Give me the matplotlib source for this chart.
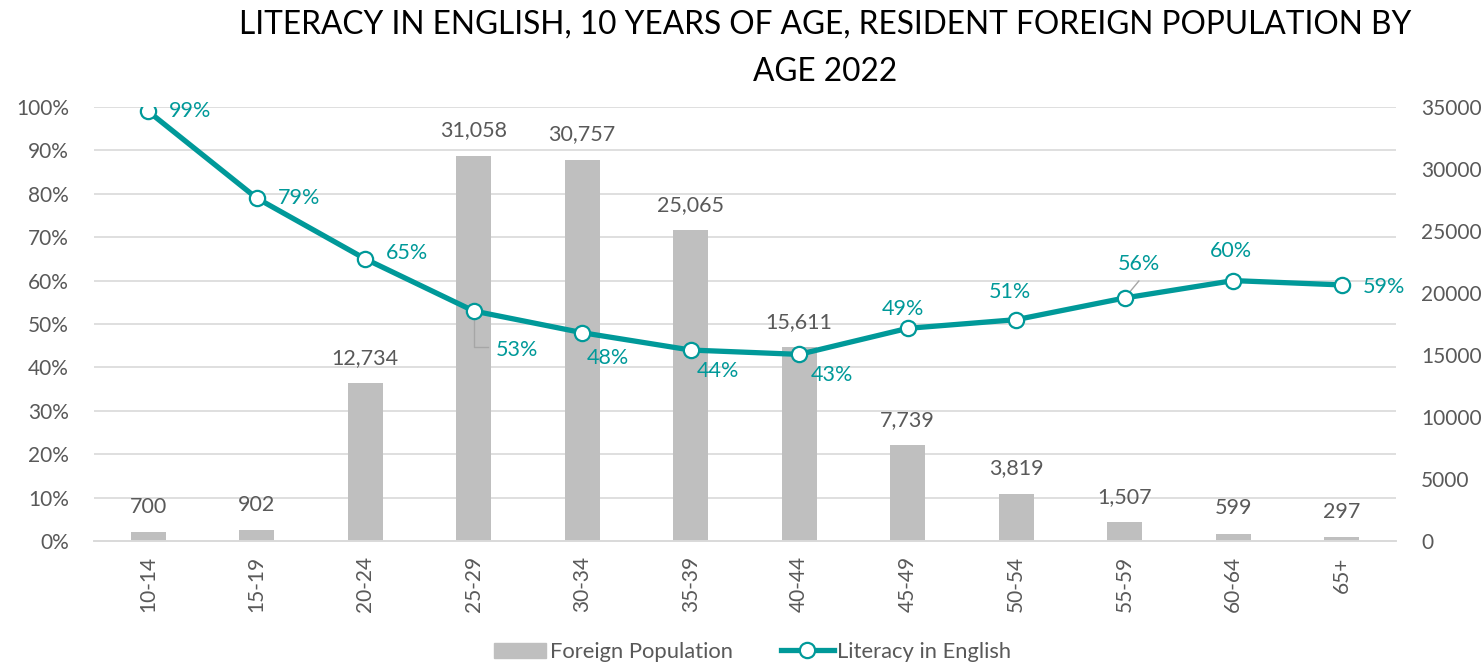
import matplotlib

matplotlib.use("Agg")
import matplotlib.pyplot as plt
from matplotlib.lines import Line2D
from matplotlib.patches import Patch

plt.rcParams["font.family"] = ["Lato", "DejaVu Sans"]

AGE_GROUPS = ["10-14", "15-19", "20-24", "25-29", "30-34", "35-39",
              "40-44", "45-49", "50-54", "55-59", "60-64", "65+"]
FOREIGN_POP = [700, 902, 12734, 31058, 30757, 25065, 15611, 7739, 3819, 1507, 599, 297]
LITERACY = [0.99, 0.79, 0.65, 0.53, 0.48, 0.44, 0.43, 0.49, 0.51, 0.56, 0.60, 0.59]

# label offsets in pixels from each marker (Excel-style placement)
LABEL_OFFSETS = [(42, 0), (42, 0), (42, 6), (43, -39), (26, -25), (27, -21),
                 (33, -21), (-5, 19), (-6, 28), (14, 34), (-2, 30), (42, -2)]

TEAL = "#009999"
BAR_GRAY = "#BFBFBF"
TEXT_GRAY = "#595959"
GRID = "#D9D9D9"
LEADER = "#A6A6A6"

fig = plt.figure(figsize=(14.84, 6.64), dpi=100)
ax = fig.add_axes([0.0633, 0.1852, 0.8774, 0.6537])
ax2 = ax.twinx()

x = list(range(len(AGE_GROUPS)))

# line axis on top of the bar axis
ax.set_zorder(ax2.get_zorder() + 1)
ax.patch.set_visible(False)

# percentage gridlines, drawn on the bar axis so they sit behind the bars
pct_ticks = [i / 10 for i in range(11)]
for t in pct_ticks[1:]:
    ax2.axhline(t * 35000, color=GRID, lw=1.2, zorder=0)

bars = ax2.bar(x, FOREIGN_POP, width=0.32, color=BAR_GRAY, zorder=2)
ax2.bar_label(bars, labels=[f"{v:,}" for v in FOREIGN_POP], padding=11,
              fontsize=15.5, color=TEXT_GRAY)
ax2.set_ylim(0, 35000)
ax2.set_yticks(range(0, 35001, 5000))
ax2.tick_params(axis="y", length=0, labelsize=15, labelcolor=TEXT_GRAY, pad=18)

ax.plot(x, LITERACY, color=TEAL, lw=3.8, marker="o", ms=11,
        mfc="white", mec=TEAL, mew=1.6, zorder=5)
for i, (v, (dx, dy)) in enumerate(zip(LITERACY, LABEL_OFFSETS)):
    ax.annotate(f"{v:.0%}", (i, v), xytext=(dx, dy), textcoords="offset pixels",
                ha="center", va="center", fontsize=15.5, color=TEAL, zorder=6)

# leader lines for the displaced labels
ax.plot([3, 3, 3.13], [LITERACY[3], 0.447, 0.447], color=LEADER, lw=1, zorder=4)
ax.plot([9, 9.13], [LITERACY[9], 0.599], color=LEADER, lw=1, zorder=4)

ax.set_ylim(0, 1)
ax.set_yticks(pct_ticks)
ax.set_yticklabels([f"{round(t * 100)}%" for t in pct_ticks])
ax.set_xlim(-0.5, len(AGE_GROUPS) - 0.5)
ax.set_xticks(x)
ax.set_xticklabels(AGE_GROUPS, rotation=90)
ax.tick_params(axis="y", length=0, labelsize=15, labelcolor=TEXT_GRAY, pad=18)
ax.tick_params(axis="x", length=0, labelsize=15, labelcolor=TEXT_GRAY, pad=11)

for a in (ax, ax2):
    for side in ("top", "left", "right"):
        a.spines[side].set_visible(False)
    a.spines["bottom"].set_color(GRID)
    a.spines["bottom"].set_linewidth(1.2)

fig.text(0.556, 0.963, "LITERACY IN ENGLISH, 10 YEARS OF AGE, RESIDENT FOREIGN POPULATION BY",
         ha="center", va="center", fontsize=22.8, color="black")
fig.text(0.556, 0.891, "AGE 2022", ha="center", va="center", fontsize=22.8, color="black")

handles = [Patch(color=BAR_GRAY, label="Foreign Population"),
           Line2D([], [], color=TEAL, lw=3.8, marker="o", ms=11, mfc="white",
                  mec=TEAL, mew=1.6, label="Literacy in English")]
fig.legend(handles=handles, loc="center", bbox_to_anchor=(0.507, 0.018), ncol=2,
           frameon=False, fontsize=15.8, labelcolor=TEXT_GRAY, handlelength=2.4,
           columnspacing=2.2, handletextpad=0.15)

fig.savefig("out.png", dpi=100)
